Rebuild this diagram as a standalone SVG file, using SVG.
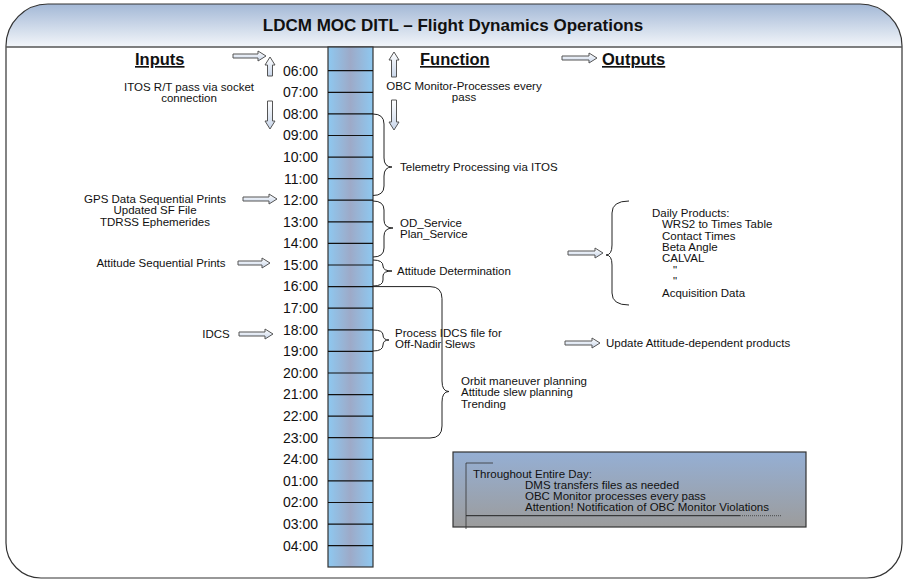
<svg xmlns="http://www.w3.org/2000/svg" width="907" height="582" viewBox="0 0 907 582">
<defs>
<linearGradient id="hdr" x1="0" y1="0" x2="0" y2="1">
<stop offset="0" stop-color="#a3b8d6"/>
<stop offset="1" stop-color="#f3f6fa"/>
</linearGradient>
<linearGradient id="col" x1="0" y1="0" x2="1" y2="0">
<stop offset="0" stop-color="#8ec8f0"/>
<stop offset="0.5" stop-color="#9daac8"/>
<stop offset="1" stop-color="#8ec8f0"/>
</linearGradient>
<linearGradient id="box" x1="0" y1="0" x2="0" y2="1">
<stop offset="0" stop-color="#95afd4"/>
<stop offset="1" stop-color="#9c9c9c"/>
</linearGradient>
<linearGradient id="arr" x1="0" y1="0" x2="0" y2="1">
<stop offset="0" stop-color="#ffffff"/>
<stop offset="1" stop-color="#c9d6ea"/>
</linearGradient>
<style>
.t{font-family:"Liberation Sans",Arial,sans-serif;font-size:11.5px;fill:#111}
.c{text-anchor:middle}
.tm{font-family:"Liberation Sans",Arial,sans-serif;font-size:14px;fill:#111;text-anchor:end}
.h{font-family:"Liberation Sans",Arial,sans-serif;font-size:16.5px;font-weight:bold;fill:#111;text-decoration:underline}
.ba{fill:url(#arr);stroke:#555;stroke-width:1}
.br{fill:none;stroke:#222;stroke-width:1}
.rl{stroke:#111;stroke-width:1.2}
</style>
</defs>
<g id="frame">
<path d="M6 47 L6 46 A42 42 0 0 1 48 4 L860 4 A42 42 0 0 1 902 46 L902 47 Z" fill="url(#hdr)"/>
<path d="M6 46 A42 42 0 0 1 48 4 L860 4 A42 42 0 0 1 902 46 L902 543 A35 35 0 0 1 867 578 L41 578 A35 35 0 0 1 6 543 Z" fill="none" stroke="#333" stroke-width="1.2"/>
<line x1="6" y1="47" x2="902" y2="47" stroke="#555" stroke-width="1.5"/>
<text x="453" y="31" text-anchor="middle" font-family="'Liberation Sans',Arial,sans-serif" font-size="17" font-weight="bold" fill="#111">LDCM MOC DITL – Flight Dynamics Operations</text>
</g>
<g id="headers">
<text class="h" x="135" y="65">Inputs</text>
<text class="h" x="420" y="65">Function</text>
<text class="h" x="602" y="65">Outputs</text>
</g>
<g id="timeline">
<rect x="328" y="47" width="45" height="520" fill="url(#col)" stroke="#333" stroke-width="1.2"/>
<line class="rl" x1="328" y1="70.7" x2="373" y2="70.7"/>
<line class="rl" x1="328" y1="92.3" x2="373" y2="92.3"/>
<line class="rl" x1="328" y1="113.9" x2="373" y2="113.9"/>
<line class="rl" x1="328" y1="135.5" x2="373" y2="135.5"/>
<line class="rl" x1="328" y1="157.1" x2="373" y2="157.1"/>
<line class="rl" x1="328" y1="178.7" x2="373" y2="178.7"/>
<line class="rl" x1="328" y1="200.2" x2="373" y2="200.2"/>
<line class="rl" x1="328" y1="221.8" x2="373" y2="221.8"/>
<line class="rl" x1="328" y1="243.4" x2="373" y2="243.4"/>
<line class="rl" x1="328" y1="265.0" x2="373" y2="265.0"/>
<line class="rl" x1="328" y1="286.6" x2="373" y2="286.6"/>
<line class="rl" x1="328" y1="308.2" x2="373" y2="308.2"/>
<line class="rl" x1="328" y1="329.8" x2="373" y2="329.8"/>
<line class="rl" x1="328" y1="351.4" x2="373" y2="351.4"/>
<line class="rl" x1="328" y1="373.0" x2="373" y2="373.0"/>
<line class="rl" x1="328" y1="394.6" x2="373" y2="394.6"/>
<line class="rl" x1="328" y1="416.1" x2="373" y2="416.1"/>
<line class="rl" x1="328" y1="437.7" x2="373" y2="437.7"/>
<line class="rl" x1="328" y1="459.3" x2="373" y2="459.3"/>
<line class="rl" x1="328" y1="480.9" x2="373" y2="480.9"/>
<line class="rl" x1="328" y1="502.5" x2="373" y2="502.5"/>
<line class="rl" x1="328" y1="524.1" x2="373" y2="524.1"/>
<line class="rl" x1="328" y1="545.7" x2="373" y2="545.7"/>
<text class="tm" x="318" y="75.5">06:00</text>
<text class="tm" x="318" y="97.1">07:00</text>
<text class="tm" x="318" y="118.7">08:00</text>
<text class="tm" x="318" y="140.3">09:00</text>
<text class="tm" x="318" y="161.9">10:00</text>
<text class="tm" x="318" y="183.5">11:00</text>
<text class="tm" x="318" y="205.0">12:00</text>
<text class="tm" x="318" y="226.6">13:00</text>
<text class="tm" x="318" y="248.2">14:00</text>
<text class="tm" x="318" y="269.8">15:00</text>
<text class="tm" x="318" y="291.4">16:00</text>
<text class="tm" x="318" y="313.0">17:00</text>
<text class="tm" x="318" y="334.6">18:00</text>
<text class="tm" x="318" y="356.2">19:00</text>
<text class="tm" x="318" y="377.8">20:00</text>
<text class="tm" x="318" y="399.4">21:00</text>
<text class="tm" x="318" y="420.9">22:00</text>
<text class="tm" x="318" y="442.5">23:00</text>
<text class="tm" x="318" y="464.1">24:00</text>
<text class="tm" x="318" y="485.7">01:00</text>
<text class="tm" x="318" y="507.3">02:00</text>
<text class="tm" x="318" y="528.9">03:00</text>
<text class="tm" x="318" y="550.5">04:00</text>
</g>
<g id="inputs">
<text class="t c" x="189" y="91">ITOS R/T pass via socket</text>
<text class="t c" x="189" y="102">connection</text>
<text class="t c" x="155" y="203">GPS Data Sequential Prints</text>
<text class="t c" x="155" y="214">Updated SF File</text>
<text class="t c" x="155" y="225.5">TDRSS Ephemerides</text>
<text class="t c" x="161" y="267">Attitude Sequential Prints</text>
<text class="t c" x="216" y="338">IDCS</text>
</g>
<g id="functions">
<text class="t c" x="464" y="90">OBC Monitor-Processes every</text>
<text class="t c" x="464" y="101">pass</text>
<text class="t" x="400" y="171">Telemetry Processing via ITOS</text>
<text class="t" x="400" y="227">OD_Service</text>
<text class="t" x="400" y="238">Plan_Service</text>
<text class="t" x="397" y="275">Attitude Determination</text>
<text class="t" x="395" y="337">Process IDCS file for</text>
<text class="t" x="395" y="348">Off-Nadir Slews</text>
<text class="t" x="461" y="385">Orbit maneuver planning</text>
<text class="t" x="461" y="396">Attitude slew planning</text>
<text class="t" x="461" y="407.5">Trending</text>
</g>
<g id="outputs">
<text class="t" x="652" y="217">Daily Products:</text>
<text class="t" x="662" y="228.3">WRS2 to Times Table</text>
<text class="t" x="662" y="239.6">Contact Times</text>
<text class="t" x="662" y="250.9">Beta Angle</text>
<text class="t" x="662" y="262.2">CALVAL</text>
<text class="t" x="673" y="273.5">"</text>
<text class="t" x="673" y="284.8">"</text>
<text class="t" x="662" y="296.5">Acquisition Data</text>
<text class="t" x="606" y="347">Update Attitude-dependent products</text>
</g>
<g id="allday">
<rect x="453" y="452" width="353" height="75" fill="url(#box)" stroke="#333" stroke-width="1.2"/>
<path d="M493 463 L466 463 L466 529" fill="none" stroke="#333" stroke-width="0.8"/>
<line x1="466" y1="515.7" x2="740" y2="515.7" stroke="#222" stroke-width="1"/>
<line x1="740" y1="515.7" x2="782" y2="515.7" stroke="#333" stroke-width="0.8" stroke-dasharray="1 1"/>
<text class="t" x="473" y="477.5">Throughout Entire Day:</text>
<text class="t" x="525" y="488.5">DMS transfers files as needed</text>
<text class="t" x="525" y="499.8">OBC Monitor processes every pass</text>
<text class="t" x="525" y="511">Attention! Notification of OBC Monitor Violations</text>
</g>
<g id="connectors">
<polygon class="ba" points="233,54 258,54 258,51 266,56 258,61 258,58 233,58"/>
<polygon class="ba" points="267.5,76 267.5,65 265,65 270,57 275,65 272.5,65 272.5,76"/>
<polygon class="ba" points="267.5,101 267.5,121 265,121 270,129 275,121 272.5,121 272.5,101"/>
<polygon class="ba" points="391.5,77 391.5,60 389,60 394,52 399,60 396.5,60 396.5,77"/>
<polygon class="ba" points="391.5,100 391.5,122 389,122 394,130 399,122 396.5,122 396.5,100"/>
<polygon class="ba" points="562,56 589,56 589,53 597,58 589,63 589,60 562,60"/>
<polygon class="ba" points="243,197 269,197 269,194 277,199 269,204 269,201 243,201"/>
<polygon class="ba" points="238,261 262,261 262,258 270,263 262,268 262,265 238,265"/>
<polygon class="ba" points="239,332 265,332 265,329 273,334 265,339 265,336 239,336"/>
<polygon class="ba" points="568,251 595,251 595,248 603,253 595,258 595,255 568,255"/>
<polygon class="ba" points="565,341 592,341 592,338 600,343 592,348 592,345 565,345"/>
<path class="br" d="M373 114 Q384 114 384 124 L384 158 Q384 167 392 167 Q384 167 384 176 L384 186 Q384 195.5 373 195.5"/>
<path class="br" d="M373 201 Q384 201 384 210 L384 220 Q384 228 393 228 Q384 228 384 236 L384 248 Q384 257 373 257"/>
<path class="br" d="M373 260 Q383 260 383 266 Q383 271 392 271 Q383 271 383 276 L383 280 Q383 286 373 286"/>
<path class="br" d="M373 330 Q383 330 383 335 Q383 340 389 340 Q383 340 383 345 Q383 351 373 351"/>
<path class="br" d="M373 286.6 L430 286.6 Q442 286.6 442 298.6 L442 381 Q442 391.5 449 391.5 Q442 391.5 442 402 L442 426 Q442 438 430 438 L373 438"/>
<path class="br" d="M629 201 Q612 201 612 213 L612 245 Q612 255 606 255 Q612 255 612 265 L612 293 Q612 305 629 305"/>
</g>
</svg>
